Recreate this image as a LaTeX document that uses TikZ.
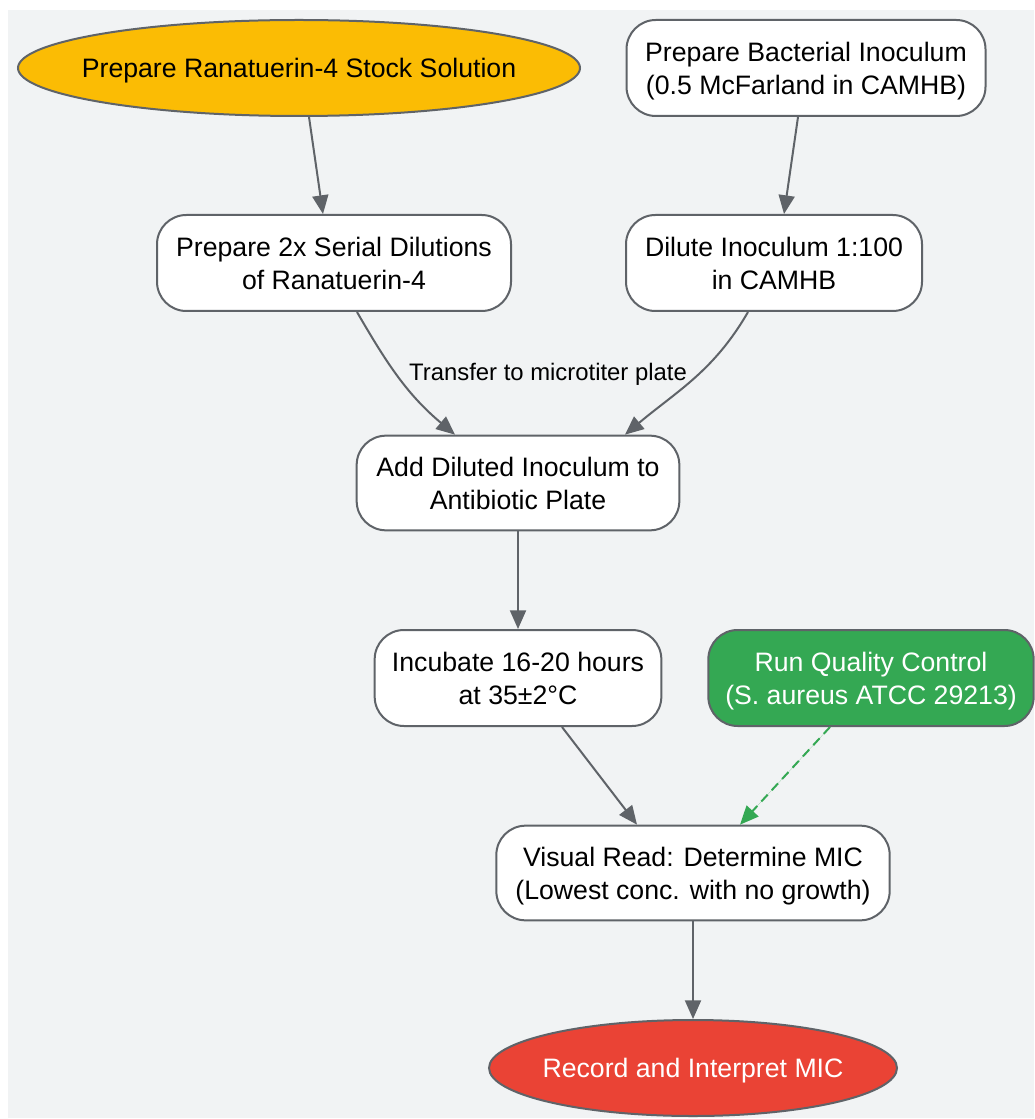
\documentclass[tikz,border=0pt]{standalone}
\usepackage{fontspec}
\setmainfont{Liberation Sans}
\usetikzlibrary{arrows.meta,shapes.geometric,positioning}
\definecolor{bordo}{HTML}{5F6368}
\definecolor{sfondo}{HTML}{F1F3F4}
\definecolor{giallo}{HTML}{FBBC04}
\definecolor{verde}{HTML}{34A853}
\definecolor{rosso}{HTML}{EA4335}
\begin{document}
\begin{tikzpicture}[x=0.75pt, y=-0.75pt, node distance={146.25pt}, line width=1.5pt,
    main/.style = {draw=bordo, fill=white, rounded corners=22pt, minimum height=72pt, inner sep=2pt, text depth=0pt, align=center, font=\fontsize{20}{24.75}\selectfont},
    oval/.style = {draw=bordo, ellipse, minimum height=72pt, inner sep=0pt, text depth=0pt, font=\fontsize{20}{24.75}\selectfont},
    freccia/.style = {draw=bordo, -{Triangle[length=14pt,width=12pt]}}]
    % Sfondo e dimensioni
    \useasboundingbox (0,0) rectangle (1034,1119);
    \fill[sfondo] (8,10) rectangle (1034,1118);

    % Disegna i nodi
    \node[oval, fill=giallo, minimum width=421.5pt] (stock) at (299,68) {\makebox[0pt]{Prepare Ranatuerin-4 Stock Solution}};
    \node[main, minimum width=269.25pt] (inoculum) at (806,68) {Prepare Bacterial Inoculum\\(0.5 McFarland in CAMHB)};
    \node[main, minimum width=265.5pt] (serial) at (334,263) {Prepare 2x Serial Dilutions\\of Ranatuerin-4};
    \node[main, minimum width=222pt] (dilute) at (774,263) {Dilute Inoculum 1:100\\in CAMHB};
    \node[main, minimum width=242pt, minimum height=71pt] (add) at (518,483) {Add Diluted Inoculum to\\Antibiotic Plate};
    \node[main, minimum width=215pt] (incubate) [below of=add] {Incubate 16-20 hours\\at 35±2°C};
    \node[main, fill=verde, text=white, minimum width=244pt] (qc) at (871,678) {Run Quality Control\\(S. aureus ATCC 29213)};
    \node[main, minimum width=295pt, minimum height=71pt] (read) at (693,873) {Visual Read: Determine MIC\\(Lowest conc. with no growth)};
    \node[oval, fill=rosso, text=white, minimum width=306pt] (record) [below of=read] {\makebox[0pt]{Record and Interpret MIC}};

    % Disegna gli archi
    \draw[freccia] ([xshift=7.5pt]stock.south) -- ([xshift=-8.25pt]serial.north);
    \draw[freccia] ([xshift=-6pt]inoculum.south) -- ([xshift=7.5pt]dilute.north);
    \draw[freccia] ([xshift=17.25pt]serial.south) to[out=-60, in=140] ([xshift=-47.25pt]add.north);
    \draw[freccia] ([xshift=-19.5pt]dilute.south) to[out=-120, in=40] ([xshift=80.25pt]add.north);
    \node[font=\fontsize{17.9}{20}\selectfont] (transfer) at (548,374) {Transfer to microtiter plate};
    \draw[freccia] (add) -- (incubate);
    \draw[freccia] ([xshift=33pt]incubate.south) -- ([xshift=-42pt]read.north);
    \draw[freccia, draw=verde, fill=verde, dash pattern=on 7pt off 4.5pt] ([xshift=-30.75pt]qc.south) -- ([xshift=35.25pt]read.north);
    \draw[freccia] (read) -- (record);

\end{tikzpicture}
\end{document}
